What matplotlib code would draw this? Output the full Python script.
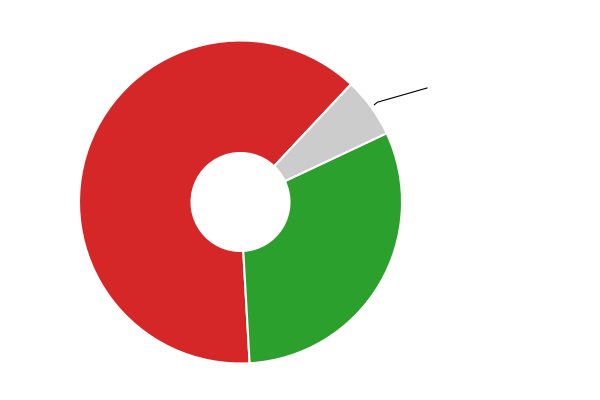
import numpy as np
import matplotlib.pyplot as plt

# slice shares, in drawing order
labels = ["Red", "Green", "Other"]
values = [62.9, 31.1, 6.0]
colors = ["#d62728", "#2ca02c", "#cccccc"]

fig = plt.figure(figsize=(6, 4), dpi=100)
ax = fig.add_axes([0, 0, 1, 1])

center = (240.5, 198)
radius = 161.5
hole = 49

wedges, _ = ax.pie(
    values,
    colors=colors,
    startangle=46.8,
    counterclock=True,
    center=center,
    radius=radius,
    wedgeprops=dict(width=radius - hole, edgecolor="white", linewidth=1.5),
    frame=True,
)
ax.set_xlim(0, 600)
ax.set_ylim(0, 400)
ax.set_aspect("equal")
ax.axis("off")

# leader line for the small slice: tiny hook then straight
w = wedges[2]
mid = np.deg2rad((w.theta1 + w.theta2) / 2)
x0 = center[0] + (radius + 4) * np.cos(mid)
y0 = center[1] + (radius + 4) * np.sin(mid)
ax.plot([x0, x0 + 3, 427], [y0, y0 + 2.5, 312], color="black", linewidth=0.8,
        solid_joinstyle="round")

plt.savefig("out.png", dpi=100)
plt.close(fig)
